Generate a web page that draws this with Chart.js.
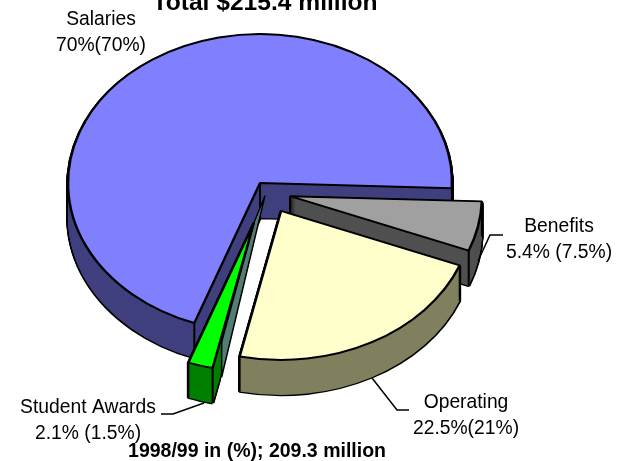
<!DOCTYPE html>
<html>
<head>
<meta charset="utf-8">
<title>Expenditures</title>
<script src="https://cdn.jsdelivr.net/npm/chart.js@4/dist/chart.umd.js"></script>
<style>
  html, body { margin: 0; padding: 0; background: #fff; }
  canvas { display: block; }
</style>
</head>
<body>
<canvas id="pie" width="629" height="461"></canvas>
<script>
const categories = ['Salaries', 'Benefits', 'Operating', 'Student Awards'];
const shares9899 = [70, 5.4, 22.5, 2.1];
const sharesPrior = [70, 7.5, 21, 1.5];
const shareLabels = ['70%(70%)', '5.4% (7.5%)', '22.5%(21%)', '2.1% (1.5%)'];
const topTitle = 'Total $215.4 million';
const bottomTitle = '1998/99 in (%); 209.3 million';

const faceColors = ['#8080ff', '#a0a0a0', '#ffffcc', '#00ff00'];
const wallColors = ['#40407f', '#505050', '#80805f', '#007f00'];

// pie is drawn flat by Chart.js, then squashed and extruded in the plugin below
const CENTER_X = 260;
const CENTER_Y = 183;
const SQUASH = 0.776;
const DEPTH = 35;
const RADIUS = 192;

// how far each slice is pulled away from the centre, in flat pie units
const pull = [
  { x: 0, y: 0 },
  { x: 30, y: 17 },
  { x: 21, y: 36 },
  { x: -6, y: 51 }
];

const labelSpots = [
  { x: 101, y: 25 },
  { x: 559, y: 232 },
  { x: 466, y: 408 },
  { x: 88, y: 413 }
];
const leaders = [
  null,
  [[478, 261], [490, 235], [503, 235]],
  [[372, 378], [397, 410], [409, 410]],
  [[204, 403], [173, 414], [161, 414]]
];

function paintArc(ctx, arc, drop, fill, border, width) {
  const saved = arc.options;
  arc.options = { ...saved, backgroundColor: fill, borderColor: border, borderWidth: width };
  ctx.save();
  ctx.translate(0, drop / SQUASH);
  arc.draw(ctx);
  ctx.restore();
  arc.options = saved;
}

function tracePath(ctx, points) {
  ctx.beginPath();
  points.forEach(([x, y], j) => (j ? ctx.lineTo(x, y) : ctx.moveTo(x, y)));
  ctx.closePath();
}

const pie3d = {
  id: 'pie3d',
  beforeDatasetDraw(chart, args) {
    const ctx = chart.ctx;
    const arcs = chart.getDatasetMeta(args.index).data;

    ctx.save();
    ctx.translate(CENTER_X, CENTER_Y);
    ctx.scale(1, SQUASH);
    ctx.translate(-arcs[0].x, -arcs[0].y);

    arcs.forEach((arc, i) => {
      const startX = arc.x + Math.cos(arc.startAngle) * RADIUS;
      const startY = arc.y + Math.sin(arc.startAngle) * RADIUS;
      const endX = arc.x + Math.cos(arc.endAngle) * RADIUS;
      const endY = arc.y + Math.sin(arc.endAngle) * RADIUS;

      // the thin strip beside the award slice, ends are relative to the slice tip and its right corner
      const strip = [
        [arc.x + 11, arc.y - 27 / SQUASH],
        [startX + 9, startY + 9 / SQUASH],
        [startX + 9, startY - 26 / SQUASH],
        [arc.x, arc.y]
      ];

      ctx.save();
      ctx.translate(pull[i].x, pull[i].y);

      ctx.save();
      if (i === 3) {
        // the award slice walls stop at the strip
        tracePath(ctx, [
          strip[0], strip[1],
          [startX + 9, startY + 90 / SQUASH],
          [startX - 80, startY + 90 / SQUASH],
          [arc.x - 120, arc.y]
        ]);
        ctx.clip();
      }

      // black silhouette first, wall colour over it leaves the outline
      for (let d = DEPTH; d > 0; d--) paintArc(ctx, arc, d, '#000', '#000', 3.5);
      for (let d = DEPTH; d > 0; d--) paintArc(ctx, arc, d, wallColors[i], wallColors[i], 0);

      // vertical corner edges
      ctx.strokeStyle = '#000';
      ctx.lineWidth = 2;
      [[arc.x, arc.y], [startX, startY], [endX, endY]].forEach(([x, y]) => {
        ctx.beginPath();
        ctx.moveTo(x, y);
        ctx.lineTo(x, y + DEPTH / SQUASH);
        ctx.stroke();
      });
      ctx.restore();

      if (i === 3) {
        tracePath(ctx, strip);
        ctx.fillStyle = '#527d73';
        ctx.fill();
        ctx.strokeStyle = '#000';
        ctx.lineWidth = 1.5;
        ctx.stroke();
      }

      paintArc(ctx, arc, 0, faceColors[i], '#000', 2.5);
      ctx.restore();
    });

    ctx.restore();
    return false;
  },
  afterDraw(chart) {
    const ctx = chart.ctx;
    ctx.save();
    ctx.fillStyle = '#000';
    ctx.textAlign = 'center';
    ctx.textBaseline = 'alphabetic';

    ctx.font = 'bold 24.6px "Liberation Sans", Arial, sans-serif';
    ctx.fillText(topTitle, 265, 10);
    ctx.font = 'bold 19.5px "Liberation Sans", Arial, sans-serif';
    ctx.fillText(bottomTitle, 257, 457);

    ctx.font = '19.3px "Liberation Sans", Arial, sans-serif';
    categories.forEach((name, i) => {
      ctx.fillText(name, labelSpots[i].x, labelSpots[i].y);
      ctx.fillText(shareLabels[i], labelSpots[i].x, labelSpots[i].y + 26);
    });

    ctx.strokeStyle = '#000';
    ctx.lineWidth = 1.5;
    leaders.forEach(points => {
      if (!points) return;
      ctx.beginPath();
      points.forEach(([x, y], j) => (j ? ctx.lineTo(x, y) : ctx.moveTo(x, y)));
      ctx.stroke();
    });
    ctx.restore();
  }
};

new Chart(document.getElementById('pie'), {
  type: 'pie',
  data: {
    labels: categories,
    datasets: [{
      data: shares9899,
      backgroundColor: faceColors,
      borderColor: '#000',
      borderWidth: 2,
      clip: false
    }]
  },
  options: {
    responsive: false,
    animation: false,
    rotation: 200,
    radius: RADIUS,
    plugins: {
      legend: { display: false },
      title: { display: false },
      tooltip: { enabled: false }
    }
  },
  plugins: [pie3d]
});
</script>
</body>
</html>
